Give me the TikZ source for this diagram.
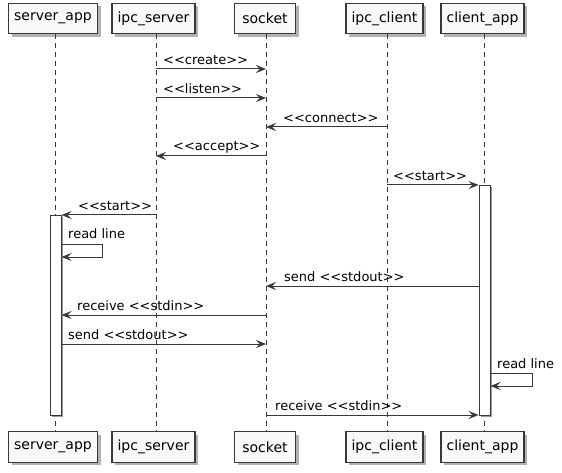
\documentclass[tikz,border=0pt]{standalone}
\usepackage{fontspec}
\setmainfont{DejaVu Sans}
\usetikzlibrary{arrows.meta,shadows}
\definecolor{ink}{HTML}{383838}
\definecolor{boxfill}{HTML}{F8F8F8}
\definecolor{shade}{HTML}{9A9A9A}
\begin{document}
\begin{tikzpicture}[x=1pt,y=-1pt,
  actor/.style={draw=ink, line width=1.3pt, fill=boxfill,
    font=\fontsize{14}{16}\selectfont, minimum height=30.5pt,
    inner xsep=3pt, inner ysep=0pt,
    drop shadow={shadow xshift=3pt, shadow yshift=-3pt, fill=black, opacity=0.3}},
  life/.style={draw=ink, line width=0.8pt, dash pattern=on 5pt off 4pt},
  msg/.style={draw=ink, line width=1pt, -{Stealth[length=10pt,width=8pt,inset=4pt]}},
  lbl/.style={font=\fontsize{13}{15}\selectfont, inner sep=0pt, anchor=west},
  act/.style={draw=ink, line width=1pt, fill=white, minimum width=11pt,
    inner sep=0pt, anchor=north},
  actshade/.style={fill=shade, draw=none, minimum width=11pt, inner sep=0pt, anchor=north},
]
\useasboundingbox (0,0) rectangle (562,473);

% participants, top row
\node[actor, minimum width=89pt] (sa) at (53,18.5) {server\_app};
\node[actor, minimum width=83pt] (is) at (153.5,18.5) {ipc\_server};
\node[actor, minimum width=61pt] (so) at (265,18.5) {socket};
\node[actor, minimum width=77pt] (ic) at (384.5,18.5) {ipc\_client};
\node[actor, minimum width=83pt] (ca) at (482.5,18.5) {client\_app};

% participants, bottom row
\node[actor, minimum width=89pt] (sab) at (53,447) {server\_app};
\node[actor, minimum width=83pt] (isb) at (153.5,447) {ipc\_server};
\node[actor, minimum width=61pt] (sob) at (265,447) {socket};
\node[actor, minimum width=77pt] (icb) at (384.5,447) {ipc\_client};
\node[actor, minimum width=83pt] (cab) at (482.5,447) {client\_app};

% lifelines
\draw[life] ([xshift=2pt]sa.south) -- ([xshift=2pt]sab.north);
\draw[life] ([xshift=2.5pt]is.south) -- ([xshift=2.5pt]isb.north);
\draw[life] ([xshift=1pt]so.south) -- ([xshift=1pt]sob.north);
\draw[life] ([xshift=2.5pt]ic.south) -- ([xshift=2.5pt]icb.north);
\draw[life] ([xshift=2pt]ca.south) -- ([xshift=2pt]cab.north);

% activation bars
\node[actshade, minimum height=200pt] (sash) at (57.5,217) {};
\node[act, minimum height=200pt] (asa) at (55.5,215) {};
\node[actshade, minimum height=230pt] (cash) at (486.5,187) {};
\node[act, minimum height=230pt] (aca) at (484.5,185) {};

% message end points
\coordinate (m1a) at (156,69);   \coordinate (m1b) at (266,69);
\coordinate (m2a) at (156,98);   \coordinate (m2b) at (266,98);
\coordinate (m3a) at (387,127);  \coordinate (m3b) at (266,127);
\coordinate (m4a) at (266,156);  \coordinate (m4b) at (156,156);
\coordinate (m5a) at (387,185);
\coordinate (m6a) at (156,215);
\coordinate (m7a) at (102,244);  \coordinate (m7b) at (102,257);
\coordinate (m8b) at (266,286);
\coordinate (m9a) at (266,315);
\coordinate (m10b) at (266,344);
\coordinate (m11a) at (532,373); \coordinate (m11b) at (532,386);
\coordinate (m12a) at (266,415);

% messages
\draw[msg] (m1a) -- (m1b);
\node[lbl] (t1) at (163,60) {<{}<create>{}>};
\draw[msg] (m2a) -- (m2b);
\node[lbl] (t2) at (163,89) {<{}<listen>{}>};
\draw[msg] (m3a) -- (m3b);
\node[lbl] (t3) at (283,118) {<{}<connect>{}>};
\draw[msg] (m4a) -- (m4b);
\node[lbl] (t4) at (173,147) {<{}<accept>{}>};
\draw[msg] (m5a) -- (aca.north west);
\node[lbl] (t5) at (393,176) {<{}<start>{}>};
\draw[msg] (m6a) -- (asa.north east);
\node[lbl] (t6) at (78,206) {<{}<start>{}>};
\draw[msg] (asa.east |- m7a) -- (m7a) -- (m7b) -- (asa.east |- m7b);
\node[lbl] (t7) at (68,234) {read line};
\draw[msg] (aca.west |- m8b) -- (m8b);
\node[lbl] (t8) at (284,277) {send <{}<stdout>{}>};
\draw[msg] (m9a) -- (asa.east |- m9a);
\node[lbl] (t9) at (77,306) {receive <{}<stdin>{}>};
\draw[msg] (asa.east |- m10b) -- (m10b);
\node[lbl] (t10) at (68,335) {send <{}<stdout>{}>};
\draw[msg] (aca.east |- m11a) -- (m11a) -- (m11b) -- (aca.east |- m11b);
\node[lbl] (t11) at (497,364) {read line};
\draw[msg] (m12a) -- (aca.west |- m12a);
\node[lbl] (t12) at (275,406) {receive <{}<stdin>{}>};
\end{tikzpicture}
\end{document}
